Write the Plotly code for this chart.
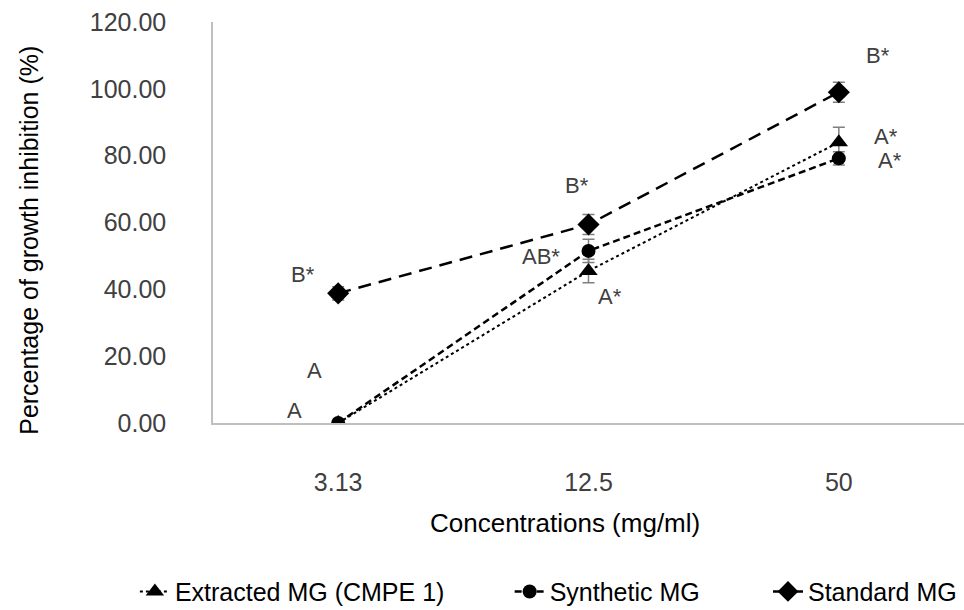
import plotly.graph_objects as go

# Concentrations tested and mean growth inhibition (%) with SD
concentrations = ["3.13", "12.5", "50"]

extracted_mg = [0.0, 45.5, 84.0]
extracted_sd = [0.5, 3.5, 4.5]

synthetic_mg = [0.0, 51.5, 79.2]
synthetic_sd = [0.5, 3.5, 2.0]

standard_mg = [38.8, 59.4, 99.0]
standard_sd = [2.0, 3.0, 3.0]

# Significance letters: (category index, offset in category units, y value, text)
letters_text = ["B*", "A", "A", "B*", "AB*", "A*", "B*", "A*", "A*"]
letters_cat = [0, 0, 0, 1, 1, 1, 2, 2, 2]
letters_dx = [-0.14, -0.095, -0.175, -0.045, -0.19, 0.085, 0.155, 0.19, 0.205]
letters_y = [44.6, 15.9, 3.9, 71.3, 50.0, 38.0, 110.2, 86.0, 78.8]

x_title = "Concentrations (mg/ml)"
y_title = "Percentage of growth inhibition (%)"

SANS = "Liberation Sans, Arial, sans-serif"
GREY = "#404040"
ERR = dict(type="data", visible=True, color="#7f7f7f", thickness=1.5, width=6)

fig = go.Figure()

fig.add_trace(go.Scatter(
    x=concentrations, y=extracted_mg, name="Extracted MG (CMPE 1)",
    mode="lines+markers", legend="legend",
    line=dict(color="black", width=2, dash="dot"),
    marker=dict(symbol="triangle-up", size=16, color="black"),
    error_y=dict(array=extracted_sd, **ERR),
))
fig.add_trace(go.Scatter(
    x=concentrations, y=synthetic_mg, name="Synthetic MG",
    mode="lines+markers", legend="legend2",
    line=dict(color="black", width=2.5, dash="7px,4px"),
    marker=dict(symbol="circle", size=14, color="black"),
    error_y=dict(array=synthetic_sd, **ERR),
))
fig.add_trace(go.Scatter(
    x=concentrations, y=standard_mg, name="Standard MG",
    mode="lines+markers", legend="legend3",
    line=dict(color="black", width=2.5, dash="13px,8px"),
    marker=dict(symbol="diamond", size=17, color="black"),
    error_y=dict(array=standard_sd, **ERR),
))

for t, c, dx, y in zip(letters_text, letters_cat, letters_dx, letters_y):
    fig.add_annotation(x=c + dx, y=y, xref="x", yref="y", text=t,
                       showarrow=False, height=20,
                       font=dict(family=SANS, size=22, color=GREY))

# Axis titles drawn as free text so they can sit off-centre
fig.add_annotation(x=-0.246, y=0.455, xref="paper", yref="paper",
                   xanchor="center", yanchor="middle",
                   text=y_title, textangle=-90, showarrow=False,
                   font=dict(family=SANS, size=25, color="black"))
fig.add_annotation(x=0.469, y=-0.249, xref="paper", yref="paper",
                   xanchor="center", yanchor="middle",
                   text=x_title, showarrow=False,
                   font=dict(family=SANS, size=26, color="black"))

# One legend per series, placed along the bottom of the figure
legend_style = dict(orientation="h", xanchor="left", yanchor="middle",
                    yref="container", y=0.03, bgcolor="rgba(0,0,0,0)",
                    font=dict(family=SANS, size=25, color="black"))

fig.update_layout(
    width=964, height=610,
    margin=dict(l=213, r=0, t=22, b=187, autoexpand=False),
    paper_bgcolor="white", plot_bgcolor="white",
    font=dict(family=SANS, size=25, color=GREY),
    showlegend=True,
    legend=dict(x=-0.104, **legend_style),
    legend2=dict(x=0.395, **legend_style),
    legend3=dict(x=0.739, **legend_style),
)
fig.update_xaxes(
    type="category", range=[-0.5, 2.5],
    showline=True, linecolor="#bfbfbf", linewidth=1.5,
    showgrid=False, ticks="", zeroline=False,
    ticklabelstandoff=36,
    tickfont=dict(family=SANS, size=25, color=GREY),
)
fig.update_yaxes(
    range=[0, 120], dtick=20, tickformat=".2f",
    showline=True, linecolor="#bfbfbf", linewidth=1.5,
    showgrid=False, zeroline=False, ticks="",
    ticklabelstandoff=40,
    tickfont=dict(family=SANS, size=25, color=GREY),
)

fig.write_html("out.html")
